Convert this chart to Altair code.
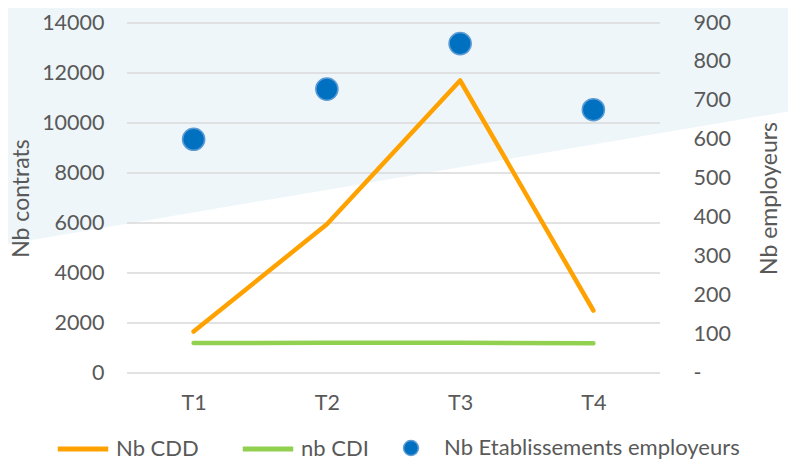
import altair as alt
import pandas as pd

# ---- data ----
quarters = ["T1", "T2", "T3", "T4"]
nb_cdd = [1660, 5950, 11700, 2500]
nb_cdi = [1200, 1210, 1210, 1190]
nb_etab = [601, 730, 847, 677]
line_series = ["Nb CDD", "nb CDI"]
point_series = ["Nb Etablissements employeurs"]
left_ticks = [0, 2000, 4000, 6000, 8000, 10000, 12000, 14000]
right_ticks = [0, 100, 200, 300, 400, 500, 600, 700, 800, 900]

# ---- style ----
FONT = "Lato"
TXT = "#595959"
GRID = "#D9D9D9"
ORANGE = "#FFA200"
GREEN = "#92D050"
BLUE = "#0070C0"
BG_BLUE = "#EEF6FA"
LBL = 21.5
TTL = 23
LEG = 22
W, H = 533, 350

lines_df = pd.DataFrame({
    "q": quarters * 2,
    "v": nb_cdd + nb_cdi,
    "s": [line_series[0]] * 4 + [line_series[1]] * 4,
})
pts_df = pd.DataFrame({"q": quarters, "v": nb_etab, "s": point_series * 4})
grid_df = pd.DataFrame({"t": left_ticks})
# decorative background band (pixel space)
bg_df = pd.DataFrame({"px": [-125, 670], "top": [-20, -20], "bot": [222, 87]})

xscale = alt.Scale(type="point", padding=0.5, domain=quarters)

bg = alt.Chart(bg_df).mark_area(color=BG_BLUE, clip=False, orient="vertical").encode(
    x=alt.X("px:Q", scale=None, axis=None),
    y=alt.Y("top:Q", scale=None, axis=None),
    y2="bot:Q",
)

grid = alt.Chart(grid_df).mark_rule(color=GRID, strokeWidth=1.3).encode(
    y=alt.Y("t:Q", scale=alt.Scale(domain=[0, 14000]), axis=None)
)

lines = alt.Chart(lines_df).mark_line(strokeWidth=4.5, strokeCap="round", strokeJoin="round").encode(
    x=alt.X("q:N", scale=xscale, sort=quarters,
            axis=alt.Axis(title=None, labelAngle=0, domain=False, ticks=False, grid=False,
                          labelPadding=19, labelFont=FONT, labelFontSize=LBL, labelColor=TXT,
                          zindex=1)),
    y=alt.Y("v:Q", scale=alt.Scale(domain=[0, 14000]),
            axis=alt.Axis(orient="left", values=left_ticks, format="d", title="Nb contrats",
                          grid=False, domain=False, ticks=False, labelPadding=23,
                          labelFont=FONT, labelFontSize=LBL, labelColor=TXT, titleFont=FONT,
                          titleFontSize=TTL, titleFontWeight="normal", titleColor=TXT,
                          titlePadding=8, zindex=1)),
    color=alt.Color("s:N", scale=alt.Scale(domain=line_series, range=[ORANGE, GREEN]),
                    legend=alt.Legend(title=None, orient="none", direction="horizontal",
                                      legendX=-72, legendY=398, symbolType="stroke",
                                      symbolSize=2550, symbolStrokeWidth=5, labelOffset=5,
                                      columnPadding=33, labelFont=FONT, labelFontSize=LEG,
                                      labelColor=TXT, labelLimit=400, zindex=1)),
)

pts = alt.Chart(pts_df).mark_circle(size=490, opacity=1, stroke="#5B9BD5", strokeWidth=1.5).encode(
    x=alt.X("q:N", scale=xscale, sort=quarters),
    y=alt.Y("v:Q", scale=alt.Scale(domain=[0, 900]),
            axis=alt.Axis(orient="right", values=right_ticks, title="Nb employeurs", grid=False,
                          domain=False, ticks=False, labelPadding=33, labelAlign="left",
                          labelExpr="datum.value == 0 ? '-' : datum.label",
                          labelFont=FONT, labelFontSize=LBL, labelColor=TXT,
                          titleFont=FONT, titleFontSize=TTL, titleFontWeight="normal",
                          titleColor=TXT, titlePadding=51, titleAngle=270, zindex=1)),
    color=alt.Color("s:N", scale=alt.Scale(domain=point_series, range=[BLUE]),
                    legend=alt.Legend(title=None, orient="none", direction="horizontal",
                                      legendX=273, legendY=414, symbolType="circle",
                                      symbolSize=220, labelOffset=22, labelFont=FONT,
                                      labelFontSize=LEG, labelColor=TXT, labelLimit=400,
                                      zindex=1)),
)

chart = alt.layer(bg, grid, lines, pts).resolve_scale(
    y="independent", color="independent"
).properties(
    width=W, height=H,
    autosize=alt.AutoSizeParams(type="none"),
    padding={"left": 119, "top": 15, "right": 128, "bottom": 86},
    background="white",
).configure_view(stroke=None)

chart.save("out.html", embed_options={"renderer": "svg", "actions": False})
